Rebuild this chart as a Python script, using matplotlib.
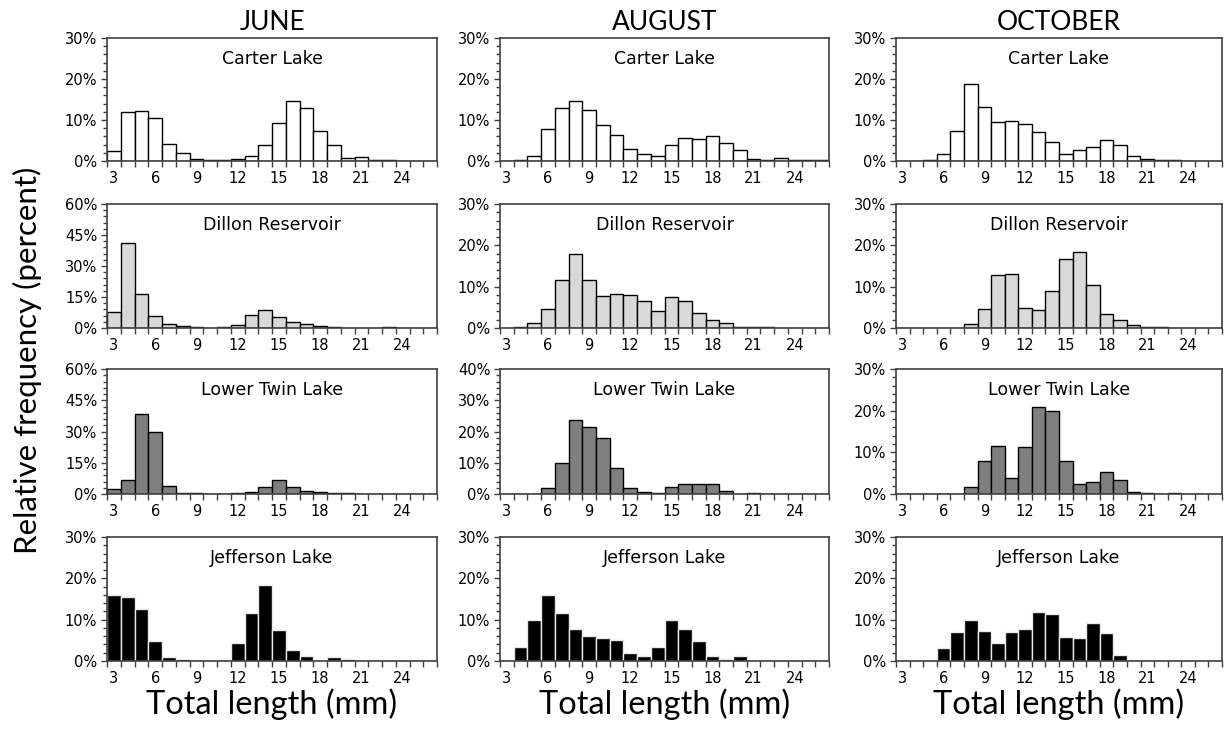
import matplotlib
matplotlib.use("Agg")
import matplotlib.pyplot as plt
import numpy as np
from matplotlib.ticker import MultipleLocator, FuncFormatter

# total length classes (mm), one bar each
lengths = np.arange(3, 27)

months = ["JUNE", "AUGUST", "OCTOBER"]
lakes = ["Carter Lake", "Dillon Reservoir", "Lower Twin Lake", "Jefferson Lake"]

# relative frequency (%) per length class
carter_jun = [2.4, 11.9, 12.1, 10.6, 4.2, 1.9, 0.6, 0.3, 0.2, 0.6, 1.3, 4.0,
              9.2, 14.7, 12.9, 7.3, 3.8, 0.7, 0.9, 0.3, 0.15, 0, 0, 0]
carter_aug = [0, 0.3, 1.3, 7.7, 12.9, 14.7, 12.5, 8.9, 6.3, 2.9, 1.7, 1.3,
              4.0, 5.5, 5.4, 6.0, 4.3, 2.7, 0.5, 0.3, 0.7, 0.2, 0.3, 0.3]
carter_oct = [0, 0, 0.3, 1.7, 7.4, 18.9, 13.2, 9.4, 9.7, 9.0, 7.1, 4.7,
              1.8, 2.8, 3.3, 5.2, 4.0, 1.3, 0.6, 0.3, 0.15, 0, 0, 0]

dillon_jun = [7.9, 41.2, 16.3, 5.7, 1.9, 0.8, 0.5, 0.1, 0.3, 1.6, 6.3, 8.5,
              5.2, 2.8, 1.9, 0.8, 0.5, 0, 0, 0, 0.3, 0, 0, 0]
dillon_aug = [0, 0.25, 1.1, 4.6, 11.6, 17.8, 11.6, 7.8, 8.2, 7.9, 6.6, 4.0,
              7.5, 6.6, 3.7, 1.9, 1.3, 0.15, 0.15, 0.15, 0, 0, 0, 0]
dillon_oct = [0, 0, 0, 0, 0, 1.0, 4.5, 12.9, 13.1, 4.9, 4.4, 9.0,
              16.7, 18.3, 10.4, 3.5, 2.0, 0.7, 0.3, 0.2, 0, 0, 0, 0]

twin_jun = [2.2, 6.6, 38.4, 30.0, 4.0, 0.6, 0.5, 0, 0, 0.5, 1.0, 3.2,
            6.9, 3.5, 1.3, 1.0, 0.5, 0.5, 0, 0, 0, 0, 0, 0]
twin_aug = [0, 0, 0, 2.0, 9.8, 23.8, 21.3, 17.9, 8.2, 1.8, 0.7, 0.4,
            2.4, 3.3, 3.3, 3.3, 1.1, 0, 0.3, 0, 0, 0, 0, 0]
twin_oct = [0, 0, 0, 0, 0, 1.8, 8.0, 11.5, 3.9, 11.3, 20.8, 20.0,
            8.0, 2.4, 2.8, 5.2, 3.4, 0.6, 0.3, 0, 0.3, 0, 0, 0]

jeff_jun = [15.9, 15.5, 12.7, 4.8, 1.0, 0.4, 0.2, 0, 0.3, 4.4, 11.5, 18.3,
            7.4, 2.6, 1.3, 0, 1.0, 0.6, 0.1, 0.1, 0.1, 0, 0, 0]
jeff_aug = [0.2, 3.5, 9.9, 16.0, 11.6, 7.7, 6.1, 5.6, 5.1, 2.0, 1.1, 3.4,
            9.9, 7.7, 4.8, 1.1, 0.6, 1.2, 0, 0, 0, 0, 0, 0]
jeff_oct = [0, 0, 0, 3.1, 6.9, 9.9, 7.3, 4.4, 6.9, 7.7, 11.8, 11.3,
            5.9, 5.6, 9.2, 6.7, 1.5, 0.2, 0.2, 0, 0, 0, 0, 0]

data = [[carter_jun, carter_aug, carter_oct],
        [dillon_jun, dillon_aug, dillon_oct],
        [twin_jun, twin_aug, twin_oct],
        [jeff_jun, jeff_aug, jeff_oct]]

# y-axis maximum and major step (%) per panel
ymax = [[30, 30, 30], [60, 30, 30], [60, 40, 30], [30, 30, 30]]
ystep = [[10, 10, 10], [15, 10, 10], [15, 10, 10], [10, 10, 10]]

fills = ["white", "#d9d9d9", "#7f7f7f", "black"]
edges = ["black", "black", "black", "#e8e8e8"]

W, H = 1225, 738
fig = plt.figure(figsize=(W / 100, H / 100), dpi=100)

# panel boxes in pixels: left, right / top, bottom
cols = [(107, 437), (500, 829), (896, 1222)]
rows = [(38, 161), (204, 328), (369, 494), (537, 661)]

spine_col = "#404040"
for r, (top, bot) in enumerate(rows):
    for c, (lft, rgt) in enumerate(cols):
        ax = fig.add_axes([lft / W, 1 - bot / H, (rgt - lft) / W, (bot - top) / H])
        ax.bar(lengths, data[r][c], width=1.0, color=fills[r],
               edgecolor=edges[r], linewidth=1.0)
        ax.set_xlim(2.5, 26.5)
        ax.set_ylim(0, ymax[r][c])
        ax.set_xticks(np.arange(3, 25, 3))
        ax.set_xticks(np.arange(2.5, 27, 1), minor=True)
        ax.yaxis.set_major_locator(MultipleLocator(ystep[r][c]))
        ax.yaxis.set_minor_locator(MultipleLocator(ystep[r][c] / 5))
        ax.yaxis.set_major_formatter(FuncFormatter(lambda v, p: "%d%%" % v))
        ax.tick_params(axis="x", which="major", length=0, pad=7,
                       labelsize=10.5, colors="black")
        ax.tick_params(axis="x", which="minor", length=4, width=1,
                       direction="out", color=spine_col)
        ax.tick_params(axis="y", which="major", length=4, width=1,
                       direction="out", labelsize=10.5, color=spine_col, pad=3)
        ax.tick_params(axis="y", which="minor", length=3, width=1,
                       direction="out", color=spine_col)
        for s in ax.spines.values():
            s.set_color(spine_col)
            s.set_linewidth(1.2)
        ax.text(0.5, 0.83, lakes[r], transform=ax.transAxes, ha="center",
                va="center", fontsize=12.5)
        if r == 0:
            ax.set_title(months[c], fontsize=19, family="Lato", pad=6)
        if r == 3:
            ax.set_xlabel("Total length (mm)", fontsize=23.5, family="Lato",
                          labelpad=2)

fig.text(27 / W, 1 - 360 / H, "Relative frequency (percent)", rotation=90,
         ha="center", va="center", fontsize=22.5, family="Lato")

fig.savefig("out.png", dpi=100)
